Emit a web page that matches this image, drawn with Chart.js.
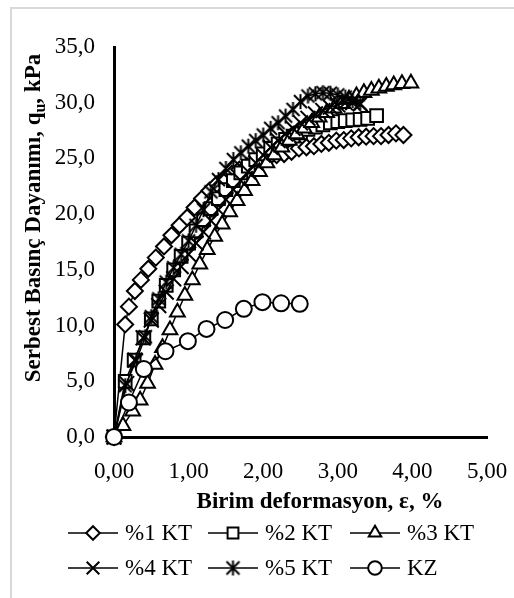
<!DOCTYPE html>
<html>
<head>
<meta charset="utf-8">
<script src="https://cdn.jsdelivr.net/npm/chart.js@4.4.1/dist/chart.umd.min.js"></script>
<style>
  html, body { margin: 0; padding: 0; background: #fff; }
</style>
</head>
<body>
<canvas id="strengthChart" width="514" height="598"></canvas>
<script>
// strain (%) vs. unconfined compressive strength (kPa) for each mix
const strain1 = [0, 0.15, 0.20, 0.28, 0.36, 0.46, 0.56, 0.67, 0.77, 0.88, 0.98, 1.08, 1.18, 1.28, 1.38, 1.48, 1.58, 1.68, 1.78, 1.88, 1.98, 2.08, 2.18, 2.28, 2.38, 2.48, 2.58, 2.68, 2.78, 2.88, 2.98, 3.08, 3.18, 3.28, 3.38, 3.48, 3.58, 3.68, 3.78, 3.88];
const stress1 = [0, 10.1, 11.7, 13.1, 14.1, 15.1, 16.1, 17.1, 18.1, 19.0, 19.7, 20.6, 21.4, 22.1, 22.7, 23.2, 23.6, 24.0, 24.3, 24.6, 24.9, 25.1, 25.3, 25.4, 25.6, 25.9, 26.0, 26.1, 26.3, 26.4, 26.6, 26.65, 26.8, 26.9, 26.95, 27.0, 27.0, 27.1, 27.25, 27.1];

const strain2 = [0, 0.15, 0.27, 0.40, 0.50, 0.60, 0.70, 0.80, 0.90, 1.00, 1.10, 1.20, 1.30, 1.40, 1.50, 1.60, 1.70, 1.80, 1.90, 2.00, 2.10, 2.20, 2.30, 2.40, 2.50, 2.60, 2.70, 2.80, 2.90, 3.00, 3.10, 3.20, 3.30, 3.40, 3.52];
const stress2 = [0, 5.0, 6.9, 8.9, 10.6, 12.2, 13.6, 15.0, 16.2, 17.4, 18.5, 19.5, 20.5, 21.4, 22.2, 23.0, 23.7, 24.3, 24.9, 25.4, 25.9, 26.3, 26.7, 27.0, 27.3, 27.6, 27.8, 28.0, 28.2, 28.3, 28.4, 28.45, 28.5, 28.6, 28.85];

const strain3 = [0, 0.12, 0.25, 0.35, 0.45, 0.55, 0.65, 0.75, 0.85, 0.95, 1.05, 1.15, 1.25, 1.35, 1.45, 1.55, 1.65, 1.75, 1.85, 1.95, 2.05, 2.15, 2.25, 2.35, 2.45, 2.55, 2.65, 2.75, 2.85, 2.95, 3.05, 3.15, 3.25, 3.35, 3.45, 3.55, 3.65, 3.75, 3.86, 3.98];
const stress3 = [0, 1.0, 2.3, 3.3, 4.8, 6.5, 8.0, 9.6, 11.2, 12.7, 14.1, 15.5, 16.8, 18.0, 19.1, 20.2, 21.2, 22.1, 23.0, 23.8, 24.6, 25.3, 26.0, 26.6, 27.2, 27.7, 28.2, 28.7, 29.1, 29.5, 29.9, 30.3, 30.6, 30.9, 31.1, 31.3, 31.45, 31.6, 31.7, 31.75];

const strain4 = [0, 0.17, 0.28, 0.39, 0.50, 0.60, 0.70, 0.80, 0.90, 1.00, 1.10, 1.20, 1.30, 1.40, 1.50, 1.60, 1.70, 1.80, 1.90, 2.00, 2.10, 2.20, 2.30, 2.40, 2.50, 2.60, 2.70, 2.80, 2.90, 3.00, 3.10, 3.20, 3.30];
const stress4 = [0, 4.8, 6.9, 8.9, 10.5, 11.8, 13.0, 14.2, 15.3, 16.4, 17.4, 18.4, 19.4, 20.4, 21.3, 22.2, 23.0, 23.8, 24.6, 25.3, 26.0, 26.6, 27.2, 27.7, 28.2, 28.6, 29.0, 29.3, 29.6, 29.8, 30.0, 30.0, 29.9];

const strain5 = [0, 0.15, 0.30, 0.42, 0.50, 0.60, 0.70, 0.80, 0.90, 1.00, 1.10, 1.20, 1.30, 1.40, 1.50, 1.60, 1.70, 1.80, 1.90, 2.00, 2.10, 2.20, 2.30, 2.40, 2.50, 2.60, 2.70, 2.80, 2.90, 3.00, 3.10, 3.20, 3.30];
const stress5 = [0, 4.6, 6.9, 9.0, 10.8, 12.4, 13.9, 15.2, 16.4, 17.6, 19.0, 20.4, 22.0, 23.1, 24.1, 24.9, 25.5, 26.1, 26.6, 27.1, 27.7, 28.2, 28.8, 29.4, 30.1, 30.6, 30.8, 30.9, 30.85, 30.7, 30.5, 30.2, 29.9];

const strainKZ = [0, 0.20, 0.40, 0.69, 0.99, 1.24, 1.49, 1.74, 1.99, 2.24, 2.49];
const stressKZ = [0, 3.1, 6.1, 7.7, 8.6, 9.7, 10.5, 11.5, 12.1, 12.0, 11.95];

const seriesNames = ['%1 KT', '%2 KT', '%3 KT', '%4 KT', '%5 KT', 'KZ'];
const xTicks = [0, 1, 2, 3, 4, 5];
const yTicks = [0, 5, 10, 15, 20, 25, 30, 35];

const FONT = '"Liberation Serif", "Times New Roman", serif';

// Excel-style asterisk marker: an X with a vertical stroke, no horizontal one
function makeAsterisk(size, lw) {
    const c = document.createElement('canvas');
    c.width = size;
    c.height = size;
    const g = c.getContext('2d');
    const m = size / 2;
    const d = m - 2;
    g.strokeStyle = '#000';
    g.lineWidth = lw;
    g.beginPath();
    g.moveTo(m - d, m - d); g.lineTo(m + d, m + d);
    g.moveTo(m + d, m - d); g.lineTo(m - d, m + d);
    g.moveTo(m, m - d - 1); g.lineTo(m, m + d + 1);
    g.stroke();
    return c;
}
const asterisk = makeAsterisk(17, 2);

const markers = [
    { style: 'rectRot', radius: 8 },
    { style: 'rect', radius: 9 },
    { style: 'triangle', radius: 8.5 },
    { style: 'crossRot', radius: 10.5 },
    { style: asterisk, radius: 8 },
    { style: 'circle', radius: 8 }
];

const strains = [strain1, strain2, strain3, strain4, strain5, strainKZ];
const stresses = [stress1, stress2, stress3, stress4, stress5, stressKZ];

// later series are drawn on top, so give them a lower order
const datasets = seriesNames.map((name, i) => ({
    label: name,
    data: strains[i].map((x, j) => ({ x: x, y: stresses[i][j] })),
    showLine: true,
    borderColor: '#000',
    borderWidth: 1.5,
    pointStyle: markers[i].style,
    pointRadius: markers[i].radius,
    pointHoverRadius: markers[i].radius,
    pointBorderWidth: 2,
    pointBorderColor: '#000',
    pointBackgroundColor: '#fff',
    clip: false,
    order: seriesNames.length - i
}));

const decorations = {
    id: 'decorations',
    beforeDraw(chart) {
        const ctx = chart.ctx;
        ctx.save();
        ctx.fillStyle = '#fff';
        ctx.fillRect(0, 0, chart.width, chart.height);
        // outer chart frame
        ctx.strokeStyle = '#d9d9d9';
        ctx.lineWidth = 2;
        ctx.strokeRect(11, 8, chart.width + 20, chart.height + 20);
        ctx.restore();
    },
    afterDraw(chart) {
        const ctx = chart.ctx;
        ctx.save();
        ctx.fillStyle = '#000';

        // x axis title
        ctx.font = 'bold 23px ' + FONT;
        ctx.textAlign = 'center';
        ctx.textBaseline = 'middle';
        ctx.fillText('Birim deformasyon, ε, %', 320, 502);

        // y axis title with subscript u
        ctx.translate(33, 218);
        ctx.rotate(-Math.PI / 2);
        const partA = 'Serbest Basınç Dayanımı, q';
        const partB = 'u';
        const partC = ', kPa';
        ctx.font = 'bold 23px ' + FONT;
        const wA = ctx.measureText(partA).width;
        const wC = ctx.measureText(partC).width;
        ctx.font = 'bold 16px ' + FONT;
        const wB = ctx.measureText(partB).width;
        let x = -(wA + wB + wC) / 2;
        ctx.textAlign = 'left';
        ctx.textBaseline = 'alphabetic';
        ctx.font = 'bold 23px ' + FONT;
        ctx.fillText(partA, x, 7);
        x += wA;
        ctx.font = 'bold 16px ' + FONT;
        ctx.fillText(partB, x, 12);
        x += wB;
        ctx.font = 'bold 23px ' + FONT;
        ctx.fillText(partC, x, 7);
        ctx.setTransform(1, 0, 0, 1, 0, 0);

        // legend: line, marker, label; three per row
        const colX = [68, 208, 350];
        const rowY = [533, 568];
        ctx.font = '23px ' + FONT;
        ctx.textBaseline = 'middle';
        ctx.textAlign = 'left';
        chart.data.datasets.forEach((ds, i) => {
            const lx = colX[i % 3];
            const ly = rowY[Math.floor(i / 3)];
            ctx.strokeStyle = '#000';
            ctx.lineWidth = 1.5;
            ctx.beginPath();
            ctx.moveTo(lx, ly);
            ctx.lineTo(lx + 50, ly);
            ctx.stroke();
            ctx.fillStyle = '#fff';
            ctx.strokeStyle = '#000';
            ctx.lineWidth = 2;
            Chart.helpers.drawPoint(ctx, {
                pointStyle: ds.pointStyle,
                radius: ds.pointRadius * 0.85,
                borderWidth: 2,
                rotation: 0
            }, lx + 25, ly);
            ctx.fillStyle = '#000';
            ctx.fillText(ds.label, lx + 57, ly + 1);
        });
        ctx.restore();
    }
};

new Chart(document.getElementById('strengthChart'), {
    type: 'scatter',
    data: { datasets: datasets },
    options: {
        responsive: false,
        animation: false,
        layout: { padding: { top: 47, right: 27, left: 0, bottom: 0 } },
        plugins: {
            legend: { display: false },
            tooltip: { enabled: false }
        },
        scales: {
            x: {
                type: 'linear',
                min: 0,
                max: 5,
                afterBuildTicks: s => { s.ticks = xTicks.map(v => ({ value: v })); },
                afterFit: s => {
                    s.height = 161;
                    s.paddingLeft = 0;
                    s.paddingRight = 0;
                },
                grid: { display: false, drawTicks: false },
                border: { display: true, color: '#000', width: 3 },
                ticks: {
                    color: '#000',
                    padding: 21,
                    maxRotation: 0,
                    font: { family: FONT, size: 23 },
                    callback: v => v.toFixed(2).replace('.', ',')
                }
            },
            y: {
                type: 'linear',
                min: 0,
                max: 35,
                afterBuildTicks: s => { s.ticks = yTicks.map(v => ({ value: v })); },
                afterFit: s => {
                    s.width = 114;
                    s.paddingTop = 0;
                    s.paddingBottom = 0;
                },
                grid: { display: false, drawTicks: false },
                border: { display: true, color: '#000', width: 3 },
                ticks: {
                    color: '#000',
                    padding: 19,
                    font: { family: FONT, size: 23 },
                    callback: v => v.toFixed(1).replace('.', ',')
                }
            }
        }
    },
    plugins: [decorations]
});
</script>
</body>
</html>
